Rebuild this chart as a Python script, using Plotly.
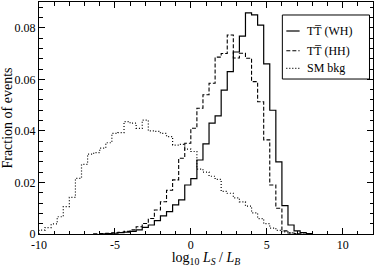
import numpy as np
import plotly.graph_objects as go

# ---- data (fraction of events per bin of log10 LS/LB, bin width 0.4) ----
bin_width = 0.4

wh_start = -6.0
wh_values = [0.0001, 0.0002, 0.0003, 0.0005, 0.0007, 0.0010, 0.0016, 0.0026, 0.0035, 0.0052,
             0.0070, 0.0087, 0.0113, 0.0132, 0.0190, 0.0215, 0.0287, 0.0350, 0.0430, 0.0458,
             0.0558, 0.0630, 0.0706, 0.0768, 0.0858, 0.0850, 0.0810, 0.0660, 0.0480, 0.0280,
             0.0110, 0.0035, 0.0012, 0.0005, 0.0002]

hh_start = -6.4
hh_values = [0.0001, 0.0002, 0.0003, 0.0005, 0.0007, 0.0010, 0.0016, 0.0028, 0.0041, 0.0060,
             0.0093, 0.0125, 0.0170, 0.0210, 0.0294, 0.0352, 0.0410, 0.0488, 0.0540, 0.0585,
             0.0686, 0.0700, 0.0772, 0.0683, 0.0701, 0.0682, 0.0591, 0.0513, 0.0365, 0.0190,
             0.0100, 0.0012, 0.0004, 0.0001]

sm_start = -10.0
sm_values = [0.0015, 0.0025, 0.0039, 0.0067, 0.0106, 0.0142, 0.0216, 0.0270, 0.0310, 0.0316,
             0.0333, 0.0354, 0.0390, 0.0393, 0.0436, 0.0430, 0.0410, 0.0442, 0.0400, 0.0398,
             0.0390, 0.0378, 0.0345, 0.0348, 0.0329, 0.0320, 0.0252, 0.0240, 0.0224, 0.0212,
             0.0165, 0.0158, 0.0140, 0.0125, 0.0108, 0.0082, 0.0060, 0.0040, 0.0023, 0.0014,
             0.0008, 0.0004, 0.0002, 0.0001]

series_names = ["TT\u0305 (WH)", "TT\u0305 (HH)", "SM bkg"]

x_tick_vals = [-10, -5, 0, 5, 10]
x_tick_text = ["-10", "-5", "0", "5", "10"]
y_tick_vals = [0, 0.02, 0.04, 0.06, 0.08]
y_tick_text = ["0", "0.02", "0.04", "0.06", "0.08"]


def step_xy(start, values):
    n = len(values)
    edges = np.round(start + bin_width * np.arange(n + 1), 4)
    xs = [edges[0]] + list(edges) + [edges[-1]]
    ys = [0.0] + list(values) + [values[-1], 0.0]
    return xs, ys


FONT = "Liberation Serif"

fig = go.Figure()
styles = [
    dict(color="black", width=1.2, dash="solid"),
    dict(color="black", width=1.1, dash="4px,2px"),
    dict(color="black", width=1.2, dash="1px,2px"),
]
for (start, vals), name, st in zip(
        [(wh_start, wh_values), (hh_start, hh_values), (sm_start, sm_values)],
        series_names, styles):
    xs, ys = step_xy(start, vals)
    fig.add_trace(go.Scatter(x=xs, y=ys, mode="lines", line_shape="hv",
                             name=name, line=st, showlegend=False))

# ---- legend box drawn in paper coordinates ----
leg_x0, leg_x1, leg_y0, leg_y1 = 0.7286, 0.9895, 0.668, 0.944
leg_rows = [0.875, 0.790, 0.714]
leg_line_x = (0.7405, 0.7803)
leg_text_x = 0.795
fig.add_shape(type="rect", xref="paper", yref="paper",
              x0=leg_x0, x1=leg_x1, y0=leg_y0, y1=leg_y1,
              line=dict(color="black", width=1), fillcolor="white", layer="above")
for name, st, yr in zip(series_names, styles, leg_rows):
    fig.add_shape(type="line", xref="paper", yref="paper",
                  x0=leg_line_x[0], x1=leg_line_x[1], y0=yr, y1=yr,
                  line=st, layer="above")
    fig.add_annotation(xref="paper", yref="paper", x=leg_text_x, y=yr,
                       xanchor="left", yanchor="middle", text=name, showarrow=False,
                       font=dict(family=FONT, size=12, color="black"))

axis_common = dict(
    showgrid=False, zeroline=False, showline=True, linecolor="black", linewidth=1,
    mirror="ticks", ticks="inside", tickcolor="black", tickwidth=1,
    tickfont=dict(family=FONT, size=12, color="black"),
    automargin=False,
)

fig.update_xaxes(
    range=[-10, 12], tickmode="array", tickvals=x_tick_vals, ticktext=x_tick_text,
    ticklen=6,
    minor=dict(dtick=1, tick0=0, ticks="inside", ticklen=3.5, tickcolor="black", showgrid=False),
    title=dict(text="log<sub>10</sub> <i>L<sub>S</sub></i> / <i>L<sub>B</sub></i>",
               font=dict(family=FONT, size=14, color="black"), standoff=4),
    **axis_common,
)
fig.update_yaxes(
    range=[0, 0.09], tickmode="array", tickvals=y_tick_vals, ticktext=y_tick_text,
    ticklen=6,
    minor=dict(dtick=0.004, tick0=0, ticks="inside", ticklen=3.5, tickcolor="black", showgrid=False),
    title=dict(text="Fraction of events",
               font=dict(family=FONT, size=14, color="black"), standoff=2),
    **axis_common,
)

fig.update_layout(
    width=375, height=267,
    margin=dict(l=39, r=2, t=2, b=33, autoexpand=False),
    plot_bgcolor="white", paper_bgcolor="white",
    font=dict(family=FONT, size=12, color="black"),
    showlegend=False,
)

fig.write_html("out.html", config={"displayModeBar": False},
               post_script="document.body.style.margin='0';document.body.style.overflow='hidden';")
